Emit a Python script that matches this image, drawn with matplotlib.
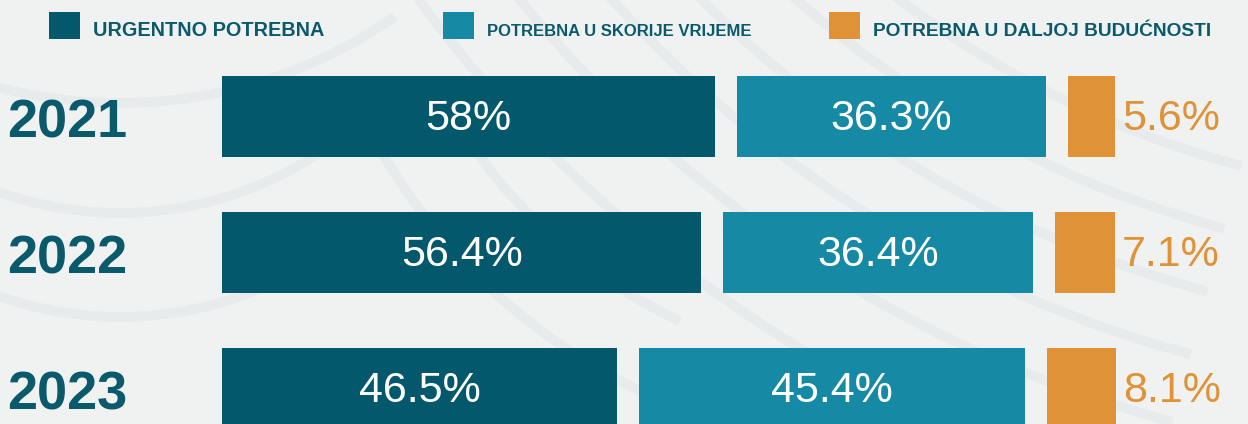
import matplotlib
matplotlib.use("Agg")
import matplotlib.pyplot as plt
from matplotlib.patches import Arc, Rectangle
from matplotlib.transforms import blended_transform_factory
import numpy as np

# 資料
years = ["2021", "2022", "2023"]
categories = [
    "URGENTNO POTREBNA",
    "POTREBNA U SKORIJE VRIJEME",
    "POTREBNA U DALJOJ BUDUĆNOSTI",
]
urgent = [58.0, 56.4, 46.5]
soon = [36.3, 36.4, 45.4]
later = [5.6, 7.1, 8.1]

# 樣式
colors = ["#03596b", "#168aa4", "#df9236"]
bg_color = "#f0f2f2"
arc_color = "#e7ebec"
text_color = "#0a5a6b"
value_font = "Liberation Sans"

W, H = 1248, 424
BAR_LEFT = 222          # 長條起點 (px)
PX_PER_UNIT = 8.5       # 每 1% 的像素寬度
GAP_PX = 22             # 區段之間的間距
ROW_TOP = 116.5         # 第一列中心 (px)
ROW_PITCH = 136
BAR_PX = 81

fig = plt.figure(figsize=(W / 100, H / 100), dpi=100, facecolor=bg_color)

# 背景裝飾弧線，使用像素座標
bg = fig.add_axes([0, 0, 1, 1])
bg.set_xlim(0, W)
bg.set_ylim(H, 0)
bg.axis("off")
bg.set_facecolor(bg_color)

# 左側年份附近的弧線 (圓心在上方)
for cx, cy, r in [(120, -377, 480), (120, -147, 360), (120, -43, 360)]:
    bg.add_patch(Arc((cx, cy), 2 * r, 2 * r, theta1=55, theta2=125,
                     color=arc_color, lw=7, zorder=0))
# 中間斜向的同心弧線 (圓心在右上方)
for r in [1000, 1065, 1130, 1195, 1265, 1345]:
    bg.add_patch(Arc((1500, -800), 2 * r, 2 * r, theta1=105, theta2=160,
                     color=arc_color, lw=7, zorder=0))
# 另一組向左下彎的弧線
for r in [520, 600]:
    bg.add_patch(Arc((900, -150), 2 * r, 2 * r, theta1=115, theta2=150,
                     color=arc_color, lw=7, zorder=0))

# 圖例
legend_x = [49, 443, 829]
legend_sizes = [14.3, 12.0, 13.8]
for lx, label, color, fs in zip(legend_x, categories, colors, legend_sizes):
    bg.add_patch(Rectangle((lx, 12), 31, 27, color=color, lw=0, zorder=2))
    bg.text(lx + 44, 36.5, label, color=text_color, fontsize=fs,
            fontweight="bold", family="Liberation Sans", va="baseline",
            ha="left", zorder=3)

# 長條圖區域
ax = fig.add_axes([BAR_LEFT / W, 0, (W - BAR_LEFT) / W, 1])
ax.set_xlim(0, (W - BAR_LEFT) / PX_PER_UNIT)
ax.set_ylim(2 + (H - ROW_TOP - 2 * ROW_PITCH) / ROW_PITCH, -ROW_TOP / ROW_PITCH)
ax.axis("off")
ax.patch.set_alpha(0)

y = np.arange(len(years))
bar_h = BAR_PX / ROW_PITCH
gap = GAP_PX / PX_PER_UNIT
series = [urgent, soon, later]

left = np.zeros(len(years))
for i, (values, color) in enumerate(zip(series, colors)):
    values = np.array(values)
    ax.barh(y, values, left=left, height=bar_h, color=color, lw=0, zorder=2)
    for yi, (lft, v) in enumerate(zip(left, values)):
        label = f"{v:g}%"
        base = yi + 14 / ROW_PITCH
        if v * PX_PER_UNIT >= 120:
            ax.text(lft + v / 2, base, label, color="white", fontsize=31,
                    family=value_font, ha="center", va="baseline", zorder=3)
        else:
            # 區段太窄時，把數值放在長條右側
            ax.text(lft + v + 7 / PX_PER_UNIT, base, label, color=color,
                    fontsize=31, family=value_font,
                    ha="left", va="baseline", zorder=3)
    left = left + values + gap

# 年份標籤
trans = blended_transform_factory(fig.transFigure, ax.transData)
for yi, year in enumerate(years):
    ax.text(67 / W, yi + 20.5 / ROW_PITCH, year, transform=trans,
            color=text_color, fontsize=39, fontweight="bold",
            family="Liberation Sans", ha="center", va="baseline", zorder=3)

fig.savefig("out.png", dpi=100, facecolor=bg_color)
plt.close(fig)
